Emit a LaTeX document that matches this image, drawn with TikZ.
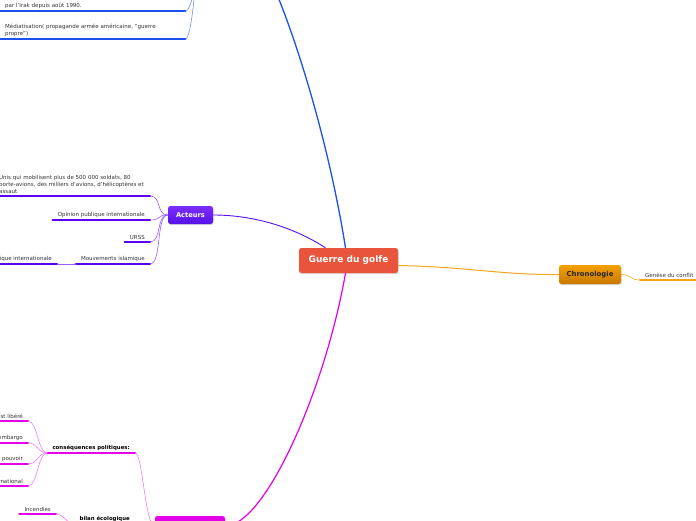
\documentclass[tikz,border=0pt]{standalone}
\usepackage{fontspec}
\setmainfont{DejaVu Sans}
\usetikzlibrary{shadows}

\definecolor{rouge}{HTML}{E8553C}
\definecolor{orangeH}{HTML}{F4A000}
\definecolor{orangeB}{HTML}{C87800}
\definecolor{orangeL}{HTML}{F5A41E}
\definecolor{violetH}{HTML}{7B2EFF}
\definecolor{violetB}{HTML}{5511E6}
\definecolor{violetF}{HTML}{5A00F0}
\definecolor{violetC}{HTML}{9A5CFF}
\definecolor{bleu}{HTML}{1E50F0}
\definecolor{bleuC}{HTML}{6E90FF}
\definecolor{mauve}{HTML}{E400E8}
\definecolor{mauveC}{HTML}{F27DF5}
\definecolor{texte}{HTML}{333333}

\begin{document}
\begin{tikzpicture}[x=1pt, y=-1pt,
  topic/.style={rounded corners=2.5pt, inner sep=0pt,
    font=\bfseries\fontsize{6.7}{8}\selectfont,
    drop shadow={shadow xshift=0.6pt, shadow yshift=-1.2pt, opacity=0.3}},
  feuille/.style={font=\fontsize{5.5}{7}\selectfont, text=texte,
    inner xsep=5pt, inner ysep=2.5pt},
  gras/.style={font=\bfseries\fontsize{5.4}{7}\selectfont, text=black},
  souligne/.style={line width=2.4pt, line cap=round},
  lien/.style={line width=0.6pt}]
  \useasboundingbox (0,0) rectangle (696,520);
  \clip (0,0) rectangle (696,520);

  % sujets
  \node[topic, fill=rouge, text=white, minimum width=99pt, minimum height=25pt,
    font=\bfseries\fontsize{9}{10}\selectfont] (guerre) at (348.5,260.5) {Guerre du golfe};
  \node[topic, top color=orangeH, bottom color=orangeB, text=black!85,
    minimum width=62pt, minimum height=19pt, font=\bfseries\fontsize{6.9}{8}\selectfont] (chrono) at (590,274.5) {Chronologie};
  \node[topic, top color=violetH, bottom color=violetB, text=white,
    minimum width=45pt, minimum height=18pt] (acteurs) at (190.5,215) {Acteurs};
  \node[topic, fill=mauve, minimum width=70pt, minimum height=20pt] (consequences) at (190,526) {};
  \coordinate (contexte) at (196,-30);
  \coordinate (contexteB) at (276,-8);

  % branches principales
  \draw[bleu, line width=1.3pt] ([xshift=-3pt]guerre.north) .. controls (330,150) and (300,50) .. (contexteB);
  \draw[violetB, line width=0.9pt] (acteurs.east) .. controls (255,215) and (295,228) .. ([xshift=-23pt]guerre.north);
  \draw[orangeL, line width=1pt] ([yshift=-5pt]guerre.east) .. controls (470,267) and (500,275) .. (chrono.west);
  \draw[mauve, line width=1.2pt] ([xshift=-3pt]guerre.south) .. controls (325,390) and (265,526) .. (consequences.east);

  % contexte
  \node[feuille, anchor=south west, text width=175pt, align=left] (irak) at (0,11) {par l'Irak depuis août 1990.};
  \node[feuille, anchor=south west, text width=175pt, align=left] (media) at (0,39)
    {Médiatisation( propagande armée américaine, "guerre\\propre")};
  \foreach \n in {irak,media} {
    \draw[souligne, bleu] (\n.south west) -- (\n.south east);
    \draw[lien, bleuC] (\n.south east) .. controls +(6,0) and (196,-18) .. (contexte);
  }

  % acteurs
  \node[feuille, anchor=south west, text width=200pt, inner xsep=0pt, align=left] (usa) at (-1,196)
    {Unis qui mobilisent plus de 500 000 soldats, 80\\porte-avions, des milliers d'avions, d'hélicoptères et\\assaut};
  \node[feuille, anchor=south east] (opinion) at (150,220) {Opinion publique internationale};
  \node[feuille, anchor=south east] (urss) at (150,242) {URSS};
  \node[feuille, anchor=south east] (islam) at (150,264) {Mouvements islamique};
  \node[feuille, anchor=south east] (terro) at (57,264) {ique internationale};
  \draw[souligne, violetF] (usa.south west) -- (usa.south west -| opinion.south east);
  \foreach \n in {opinion,urss,islam,terro}
    \draw[souligne, violetF] (\n.south west) -- (\n.south east);
  \draw[lien, violetC] (acteurs.west) .. controls +(-12,0) and +(12,0) .. (usa.south west -| opinion.south east);
  \foreach \n in {opinion,urss,islam}
    \draw[lien, violetC] (acteurs.west) .. controls +(-12,0) and +(12,0) .. (\n.south east);
  \draw[lien, violetC] (islam.south west) -- (terro.south east);

  % chronologie
  \node[feuille, anchor=south west] (genese) at (640,280) {Genèse du conflit};
  \draw[souligne, orangeL] (genese.south west) -- (genese.south east);
  \draw[lien, orangeL] (chrono.east) .. controls +(10,0) and +(-10,0) .. (genese.south west);

  % consequences
  \node[feuille, gras, anchor=south east] (politiques) at (135,453) {conséquences politiques:};
  \node[feuille, gras, anchor=south east] (ecologie) at (135,524) {bilan écologique};
  \node[feuille, anchor=south east] (libere) at (28,421) {st libéré};
  \node[feuille, anchor=south east] (embargo) at (28,443) {embargo};
  \node[feuille, anchor=south east] (pouvoir) at (28,464) {pouvoir};
  \node[feuille, anchor=south east] (national) at (28,486) {rnational};
  \node[feuille, anchor=south east] (incendies) at (56,514) {Incendies};
  \foreach \n in {politiques,ecologie,libere,embargo,pouvoir,national,incendies}
    \draw[souligne, mauve] (\n.south west) -- (\n.south east);
  \foreach \n in {politiques,ecologie}
    \draw[lien, mauveC] (consequences.west) .. controls +(-10,0) and +(8,0) .. (\n.south east);
  \foreach \n in {libere,embargo,pouvoir,national}
    \draw[lien, mauveC] (politiques.south west) .. controls +(-10,0) and +(10,0) .. (\n.south east);
  \draw[lien, mauveC] (ecologie.south west) .. controls +(-8,0) and +(8,0) .. (incendies.south east);
\end{tikzpicture}
\end{document}
